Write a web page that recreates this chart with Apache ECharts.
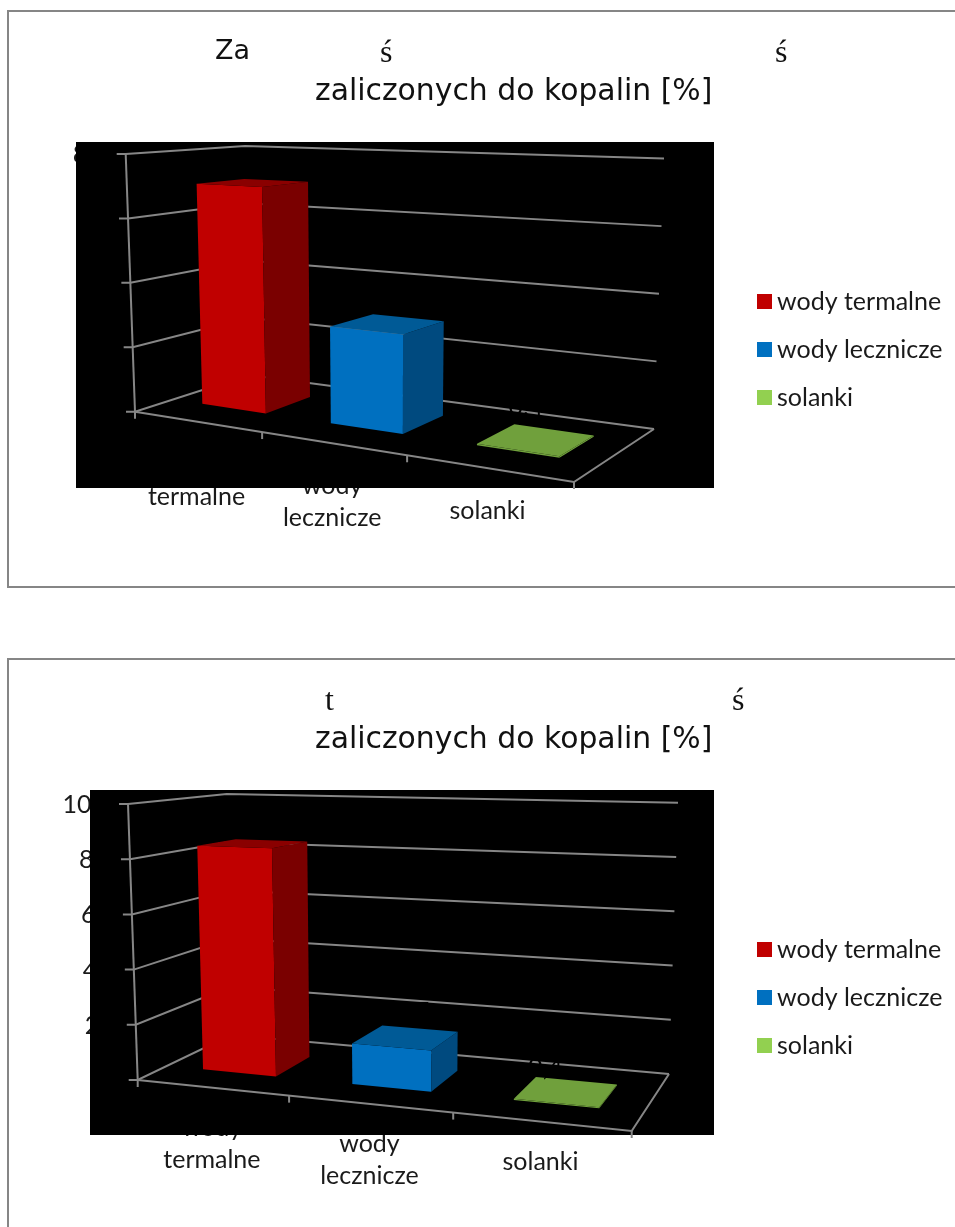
<!DOCTYPE html>
<html>
<head>
<meta charset="utf-8">
<title>Wody zaliczone do kopalin</title>
<script src="https://cdn.jsdelivr.net/npm/echarts@6/dist/echarts.min.js"></script>
<style>
  html, body { margin: 0; padding: 0; background: #fff; }
  #chart { width: 955px; height: 1227px; }
</style>
</head>
<body>
<div id="chart"></div>
<script>
// dane
const categories = ["wody termalne", "wody lecznicze", "solanki"];
const valuesTop = [70, 29, 0.4];
const valuesBottom = [83.5, 14.5, 0.4];
const ticksTop = [0, 20, 40, 60, 80];
const ticksBottom = [0, 20, 40, 60, 80, 100];
const colors = ["#c00000", "#0070c0", "#92d050"];
const frontColors = ["#c00000", "#0070c0", "#70a03c"];
const sideColors = ["#7a0000", "#004a7f", "#70a03c"];
const topColors = ["#8a0000", "#005a96", "#70a03c"];

const LINE = "#868686";
const TEXT = "#1a1a1a";
const LABEL_FONT = "Lato";
const LABEL_SIZE = 25;

// uklad obu wykresow: rogi pudelka 3D w pikselach
const layouts = [
  {
    grid: { left: 76, top: 142, width: 638, height: 346 },
    floor: [[135, 411.7], [574, 482], [654, 429], [249, 375]],
    roof: { front: [125.7, 154], backRight: [664, 158.5], backLeft: [245, 146] },
    depth: [0.31, 0.72],
    halfWidth: 0.085,
    labelShift: [[-37, -21], [0, -24], [-10, -33]],
    catOffset: 27,
    tickOffset: 24,
    legendTop: 289
  },
  {
    grid: { left: 90, top: 790, width: 624, height: 345 },
    floor: [[137.7, 1080], [631.7, 1131], [669, 1074], [231, 1035]],
    roof: { front: [128, 804], backRight: [678, 802.7], backLeft: [226.7, 794] },
    depth: [0.29, 0.7],
    halfWidth: 0.083,
    labelShift: [[0, -18], [0, -26], [-21, -23]],
    catOffset: 24,
    tickOffset: 22,
    legendTop: 937
  }
];

// kawalki tytulu, ktore widac na obrazku
const titlePieces = [
  { text: "Za", left: 215, top: 38, size: 27, serif: false },
  { text: "ś", left: 380, top: 38, size: 32, serif: true },
  { text: "ś", left: 775, top: 38, size: 32, serif: true },
  { text: "zaliczonych do kopalin [%]", left: 315, top: 77, size: 29.85, serif: false },
  { text: "t", left: 325, top: 686, size: 32, serif: true },
  { text: "ś", left: 732, top: 686, size: 32, serif: true },
  { text: "zaliczonych do kopalin [%]", left: 315, top: 725, size: 29.85, serif: false }
];

// wspolczynniki perspektywy czworokata podlogi
function quadMap(q) {
  const [[x0, y0], [x1, y1], [x2, y2], [x3, y3]] = q;
  const dx3 = x0 - x1 + x2 - x3;
  const dy3 = y0 - y1 + y2 - y3;
  const dx1 = x1 - x2;
  const dx2 = x3 - x2;
  const dy1 = y1 - y2;
  const dy2 = y3 - y2;
  const den = dx1 * dy2 - dx2 * dy1;
  const g = (dx3 * dy2 - dx2 * dy3) / den;
  const h = (dx1 * dy3 - dx3 * dy1) / den;
  return { g, h };
}

function makeProjector(layout) {
  const { g, h } = quadMap(layout.floor);
  // podloga i sufit maja ten sam mianownik, czwarty rog sufitu wynika z trzech pozostalych
  const plane = (p0, p2, p3) => {
    const b = [0, 1].map((k) => p3[k] * (h + 1) - p0[k]);
    const a = [0, 1].map((k) => p2[k] * (g + h + 1) - b[k] - p0[k]);
    return (u, t) => {
      const w = g * u + h * t + 1;
      return [0, 1].map((k) => (a[k] * u + b[k] * t + p0[k]) / w);
    };
  };
  const [f0, , f2, f3] = layout.floor;
  const floor = plane(f0, f2, f3);
  const roof = plane(layout.roof.front, layout.roof.backRight, layout.roof.backLeft);
  return (u, v, t) => {
    const p = floor(u, t);
    const q = roof(u, t);
    return [p[0] + (q[0] - p[0]) * v, p[1] + (q[1] - p[1]) * v];
  };
}

// pozycja z osi wykresu jako ulamek siatki
function toUnit(api, params, cat, val) {
  const p = api.coord([cat, val]);
  const c = params.coordSys;
  return [(p[0] - c.x) / c.width, (c.y + c.height - p[1]) / c.height];
}

function poly(points, fill) {
  return { type: "polygon", shape: { points }, style: { fill, stroke: null } };
}

function line(points) {
  return { type: "polyline", shape: { points }, style: { stroke: LINE, lineWidth: 2, fill: null } };
}

function barSeries(chartIdx, catIdx, value) {
  const layout = layouts[chartIdx];
  const project = makeProjector(layout);
  return {
    type: "custom",
    name: categories[catIdx],
    xAxisIndex: chartIdx,
    yAxisIndex: chartIdx,
    z: 3,
    itemStyle: { color: colors[catIdx] },
    data: [[catIdx, value]],
    renderItem(params, api) {
      const [uc, v] = toUnit(api, params, api.value(0), api.value(1));
      const u0 = uc - layout.halfWidth;
      const u1 = uc + layout.halfWidth;
      const [d0, d1] = layout.depth;
      const fl0 = project(u0, 0, d0), fr0 = project(u1, 0, d0), br0 = project(u1, 0, d1);
      const fl1 = project(u0, v, d0), fr1 = project(u1, v, d0), br1 = project(u1, v, d1), bl1 = project(u0, v, d1);
      const c = project(uc, v, (d0 + d1) / 2);
      const shift = layout.labelShift[catIdx];
      return {
        type: "group",
        children: [
          poly([fl0, fr0, fr1, fl1], frontColors[catIdx]),
          poly([fr0, br0, br1, fr1], sideColors[catIdx]),
          poly([fl1, fr1, br1, bl1], topColors[catIdx]),
          {
            // etykiety danych sa czarne na czarnym tle, jak w oryginale
            type: "text",
            x: c[0] + shift[0],
            y: c[1] + shift[1],
            style: {
              text: String(value).replace(".", ","),
              fontFamily: LABEL_FONT,
              fontSize: LABEL_SIZE,
              fill: "#000",
              align: "center",
              verticalAlign: "middle"
            }
          }
        ]
      };
    }
  };
}

function wallSeries(chartIdx, ticks) {
  const project = makeProjector(layouts[chartIdx]);
  return {
    type: "custom",
    xAxisIndex: chartIdx,
    yAxisIndex: chartIdx,
    z: 2,
    silent: true,
    data: ticks.map((t) => [0, t]),
    renderItem(params, api) {
      const v = toUnit(api, params, 0, api.value(1))[1];
      const a = project(0, v, 0);
      return line([[a[0] - 9, a[1]], a, project(0, v, 1), project(1, v, 1)]);
    }
  };
}

function baseSeries(chartIdx) {
  const project = makeProjector(layouts[chartIdx]);
  return {
    type: "custom",
    xAxisIndex: chartIdx,
    yAxisIndex: chartIdx,
    z: 2,
    silent: true,
    data: categories.map((name, i) => [i, 0]),
    renderItem(params, api) {
      const i = api.value(0);
      const band = api.size([1, 0])[0] / params.coordSys.width;
      const uc = toUnit(api, params, i, 0)[0];
      const right = project(uc + band / 2, 0, 0);
      const children = [line([[right[0], right[1]], [right[0], right[1] + 7]])];
      if (i === 0) {
        const o = project(0, 0, 0);
        children.push(line([o, [o[0], o[1] + 7]]));
        children.push(line([o, project(0, 1, 0)]));
        children.push(line([o, project(1, 0, 0), project(1, 0, 1)]));
      }
      return { type: "group", children };
    }
  };
}

// podpisy leza pod czarnym prostokatem siatki, tak jak w oryginale
function tickLabelSeries(chartIdx, ticks) {
  const layout = layouts[chartIdx];
  const project = makeProjector(layout);
  return {
    type: "custom",
    xAxisIndex: chartIdx,
    yAxisIndex: chartIdx,
    z: 0,
    silent: true,
    data: ticks.map((t) => [0, t]),
    renderItem(params, api) {
      const v = toUnit(api, params, 0, api.value(1))[1];
      const a = project(0, v, 0);
      return {
        type: "text",
        x: a[0] - layout.tickOffset,
        y: a[1] + 1,
        style: {
          text: String(api.value(1)),
          fontFamily: LABEL_FONT,
          fontSize: LABEL_SIZE,
          fill: TEXT,
          align: "right",
          verticalAlign: "middle"
        }
      };
    }
  };
}

function categoryLabelSeries(chartIdx) {
  const layout = layouts[chartIdx];
  const project = makeProjector(layout);
  return {
    type: "custom",
    xAxisIndex: chartIdx,
    yAxisIndex: chartIdx,
    z: 0,
    silent: true,
    data: categories.map((name, i) => [i, 0]),
    renderItem(params, api) {
      const i = api.value(0);
      const uc = toUnit(api, params, i, 0)[0];
      const a = project(uc, 0, 0);
      return {
        type: "text",
        x: a[0],
        y: a[1] + layout.catOffset,
        style: {
          text: categories[i].replace(" ", "\n"),
          fontFamily: LABEL_FONT,
          fontSize: LABEL_SIZE,
          lineHeight: 32,
          fill: TEXT,
          align: "center",
          verticalAlign: "top"
        }
      };
    }
  };
}

const chart = echarts.init(document.getElementById("chart"), null, { renderer: "canvas" });

const allValues = [valuesTop, valuesBottom];
const allTicks = [ticksTop, ticksBottom];

const series = [];
[0, 1].forEach((idx) => {
  series.push(tickLabelSeries(idx, allTicks[idx]));
  series.push(categoryLabelSeries(idx));
  series.push(wallSeries(idx, allTicks[idx]));
  series.push(baseSeries(idx));
  categories.forEach((name, i) => series.push(barSeries(idx, i, allValues[idx][i])));
});

chart.setOption({
  animation: false,
  backgroundColor: "#fff",
  title: titlePieces.map((p) => ({
    text: p.text,
    left: p.left,
    top: p.top,
    padding: 0,
    textStyle: {
      fontFamily: p.serif ? "Liberation Serif" : "DejaVu Sans",
      fontSize: p.size,
      fontWeight: "normal",
      color: "#111"
    }
  })),
  grid: layouts.map((l) => ({
    ...l.grid,
    show: true,
    backgroundColor: "#000",
    borderWidth: 0,
    z: 1
  })),
  xAxis: layouts.map((l, i) => ({ gridIndex: i, type: "category", data: categories, show: false })),
  yAxis: layouts.map((l, i) => ({
    gridIndex: i,
    type: "value",
    min: 0,
    max: allTicks[i][allTicks[i].length - 1],
    interval: 20,
    show: false
  })),
  legend: layouts.map((l) => ({
    orient: "vertical",
    left: 757,
    top: l.legendTop,
    padding: 0,
    itemWidth: 15,
    itemHeight: 15,
    itemGap: 23,
    icon: "rect",
    selectedMode: false,
    data: categories,
    textStyle: { fontFamily: LABEL_FONT, fontSize: LABEL_SIZE, color: TEXT }
  })),
  graphic: [
    { type: "polyline", shape: { points: [[955, 11], [8, 11], [8, 587], [955, 587]] }, style: { stroke: LINE, lineWidth: 2, fill: null } },
    { type: "polyline", shape: { points: [[955, 659], [8, 659], [8, 1227]] }, style: { stroke: LINE, lineWidth: 2, fill: null } }
  ],
  series
});
</script>
</body>
</html>
